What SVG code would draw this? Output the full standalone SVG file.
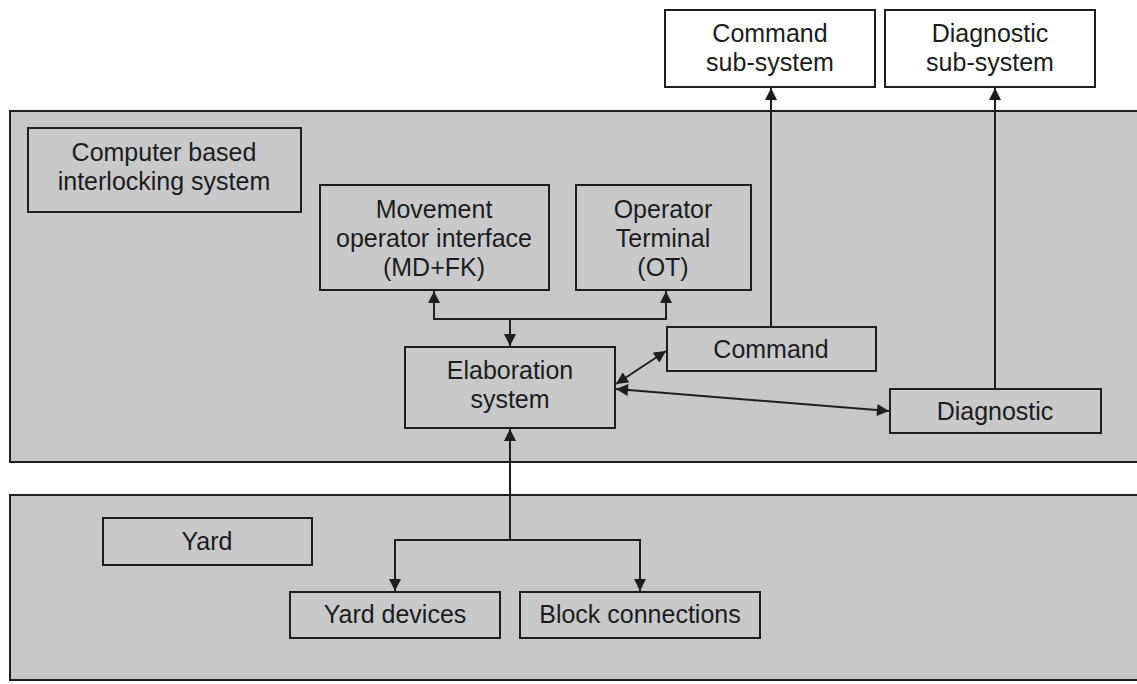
<svg xmlns="http://www.w3.org/2000/svg" width="1137" height="684" viewBox="0 0 1137 684">
  <style>
    .panel { fill: #c7c7ca; stroke: #1e1e1e; stroke-width: 2; }
    .box { fill: #c9c9cc; stroke: #1e1e1e; stroke-width: 2; }
    .wbox { fill: #ffffff; stroke: #1e1e1e; stroke-width: 2; }
    .lbl { font-family: "Liberation Sans", Arial, sans-serif; font-size: 25px; fill: #1c1c1c; text-anchor: middle; }
    .wire { fill: none; stroke: #1e1e1e; stroke-width: 2; }
  </style>
  <defs>
    <marker id="arr" viewBox="0 0 10 10" refX="10" refY="5" markerWidth="13" markerHeight="12" markerUnits="userSpaceOnUse" orient="auto-start-reverse">
      <path d="M0,0 L10,5 L0,10 z" fill="#1e1e1e"/>
    </marker>
  </defs>
  <rect x="0" y="0" width="1137" height="684" fill="#ffffff"/>

  <g id="panel-interlocking"><rect class="panel" x="10" y="111" width="1140" height="351"/></g>
  <g id="panel-yard"><rect class="panel" x="10" y="495" width="1140" height="185"/></g>

  <g id="command-subsystem">
    <rect class="wbox" x="665" y="10" width="210" height="77"/>
    <text class="lbl" x="770" y="42">Command</text>
    <text class="lbl" x="770" y="71">sub-system</text>
  </g>
  <g id="diagnostic-subsystem">
    <rect class="wbox" x="885" y="10" width="210" height="77"/>
    <text class="lbl" x="990" y="42">Diagnostic</text>
    <text class="lbl" x="990" y="71">sub-system</text>
  </g>

  <g id="cbi-label">
    <rect class="box" x="28" y="128" width="273" height="84"/>
    <text class="lbl" x="164" y="161">Computer based</text>
    <text class="lbl" x="164" y="190">interlocking system</text>
  </g>
  <g id="movement-interface">
    <rect class="box" x="320" y="185" width="229" height="105"/>
    <text class="lbl" x="434" y="218">Movement</text>
    <text class="lbl" x="434" y="247">operator interface</text>
    <text class="lbl" x="434" y="276">(MD+FK)</text>
  </g>
  <g id="operator-terminal">
    <rect class="box" x="576" y="185" width="175" height="105"/>
    <text class="lbl" x="663" y="218">Operator</text>
    <text class="lbl" x="663" y="247">Terminal</text>
    <text class="lbl" x="663" y="276">(OT)</text>
  </g>
  <g id="elaboration">
    <rect class="box" x="405" y="347" width="210" height="81"/>
    <text class="lbl" x="510" y="379">Elaboration</text>
    <text class="lbl" x="510" y="408">system</text>
  </g>
  <g id="command">
    <rect class="box" x="667" y="327" width="209" height="44"/>
    <text class="lbl" x="771" y="358">Command</text>
  </g>
  <g id="diagnostic">
    <rect class="box" x="890" y="389" width="211" height="44"/>
    <text class="lbl" x="995" y="420">Diagnostic</text>
  </g>

  <g id="yard-label">
    <rect class="box" x="103" y="518" width="209" height="47"/>
    <text class="lbl" x="207" y="550">Yard</text>
  </g>
  <g id="yard-devices">
    <rect class="box" x="290" y="592" width="210" height="46"/>
    <text class="lbl" x="395" y="623">Yard devices</text>
  </g>
  <g id="block-connections">
    <rect class="box" x="520" y="592" width="240" height="46"/>
    <text class="lbl" x="640" y="623">Block connections</text>
  </g>

  <g id="connectors">
    <polyline class="wire" points="434,291 434,319 666,319 666,291" marker-start="url(#arr)" marker-end="url(#arr)"/>
    <line class="wire" x1="510" y1="319" x2="510" y2="346" marker-end="url(#arr)"/>
    <line class="wire" x1="616" y1="384" x2="666" y2="351" marker-start="url(#arr)" marker-end="url(#arr)"/>
    <line class="wire" x1="616" y1="389" x2="889" y2="411" marker-start="url(#arr)" marker-end="url(#arr)"/>
    <line class="wire" x1="771" y1="327" x2="771" y2="88" marker-end="url(#arr)"/>
    <line class="wire" x1="995" y1="389" x2="995" y2="88" marker-end="url(#arr)"/>
    <line class="wire" x1="510" y1="540" x2="510" y2="429" marker-end="url(#arr)"/>
    <polyline class="wire" points="395,591 395,540 640,540 640,591" marker-start="url(#arr)" marker-end="url(#arr)"/>
  </g>
</svg>
